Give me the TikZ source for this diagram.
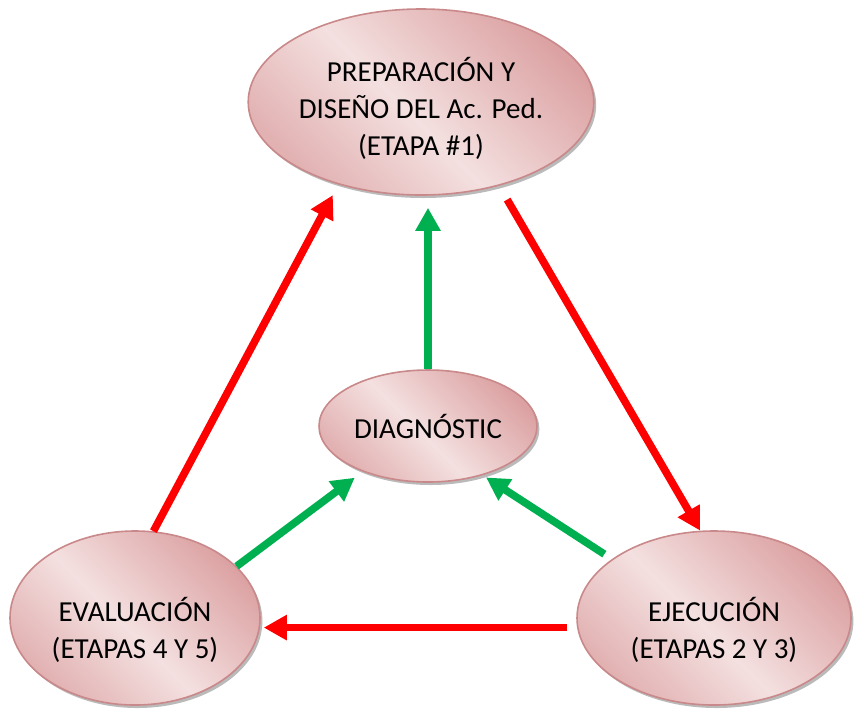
\documentclass[tikz,border=0pt]{standalone}
\usepackage{fontspec}
\setmainfont{Carlito}
\usetikzlibrary{shapes.geometric,arrows.meta,shadows}
\definecolor{rosedark}{HTML}{DCA2A3}
\definecolor{roselight}{HTML}{F4E0E0}
\definecolor{roseline}{HTML}{C98889}
\definecolor{arrowred}{HTML}{FF0000}
\definecolor{arrowgreen}{HTML}{00B050}
\pgfdeclarehorizontalshading{rosefill}{100bp}{color(0bp)=(rosedark!75!roselight); color(25bp)=(rosedark!75!roselight); color(47bp)=(roselight); color(75bp)=(rosedark); color(100bp)=(rosedark)}
\begin{document}
\begin{tikzpicture}[x=0.5pt,y=-0.5pt,
		stage/.style={ellipse,draw=roseline,line width=0.8pt,shade,shading=rosefill,shading angle=45,inner sep=0pt,align=center,font=\fontsize{14.5}{18.5}\selectfont,drop shadow={shadow xshift=1.2pt,shadow yshift=-1.5pt,opacity=0.45,fill=black!60}},
		redarrow/.style={draw=arrowred,line width=3.8pt,-{Triangle[width=12pt,length=11.5pt]}},
		greenarrow/.style={draw=arrowgreen,line width=3.8pt,-{Triangle[width=12pt,length=11.5pt]}}]
	\useasboundingbox (0,0) rectangle (854,708);
	\node[stage,minimum width=170pt,minimum height=93pt] (prep) at (421,102) {\rule{0pt}{19pt}PREPARACIÓN Y\\DISEÑO DEL Ac. Ped.\\(ETAPA \#1)};
	\node[stage,minimum width=109pt,minimum height=56pt] (diag) at (428,426) {DIAGNÓSTIC};
	\node[stage,minimum width=125pt,minimum height=87pt] (eva) at (135,618) {\rule{0pt}{24pt}EVALUACIÓN\\(ETAPAS 4 Y 5)};
	\node[stage,minimum width=137pt,minimum height=87pt] (eje) at (714,618) {\rule{0pt}{24pt}EJECUCIÓN\\(ETAPAS 2 Y 3)};
	\draw[redarrow,shorten >=6pt] (eva.78) -- (prep.225);
	\draw[redarrow,shorten <=8pt] (prep.313) -- (eje.99);
	\draw[redarrow,shorten <=5pt,shorten >=1.5pt] (eje.184) -- (eje.184 -| eva.east);
	\draw[greenarrow,shorten >=6pt] (diag.north) -- (diag.north |- prep.south);
	\draw[greenarrow,shorten >=5pt] (eva.27) -- (diag.215);
	\draw[greenarrow,shorten <=4.5pt,shorten >=2pt] (eje.150) -- (diag.318);
\end{tikzpicture}
\end{document}
